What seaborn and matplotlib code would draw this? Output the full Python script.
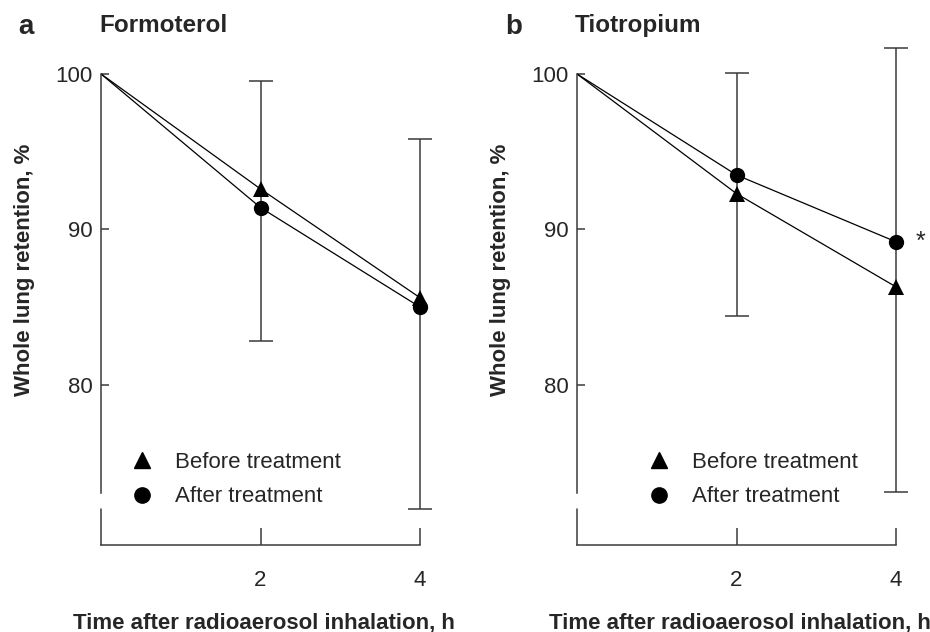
import pandas as pd
import matplotlib.pyplot as plt
import seaborn as sns
from matplotlib.lines import Line2D

# --- data ---
time_h = [0, 2, 4]
form_before = [100, 92.6, 85.6]
form_after = [100, 91.4, 85.0]
form_err_x = [2, 4]
form_err_low = [82.8, 72.0]
form_err_high = [99.55, 95.8]

tio_before = [100, 92.3, 86.3]
tio_after = [100, 93.5, 89.2]
tio_err_x = [2, 4]
tio_err_low = [84.4, 73.1]
tio_err_high = [100.06, 101.7]

x_ticks = [2, 4]
y_ticks = [80, 90, 100]
series_names = ['Before treatment', 'After treatment']

sns.set_style('ticks')
plt.rcParams['font.family'] = ['Liberation Sans', 'DejaVu Sans']

fig = plt.figure(figsize=(9.3, 6.32), dpi=100)
ax_a = fig.add_axes([0.1086, 0.1377, 0.386, 0.7945])
ax_b = fig.add_axes([0.6204, 0.1377, 0.386, 0.7945])

ylo, yhi = 69.7, 102.0
brk_lo, brk_hi = 72.0, 73.05
spine_col = '#3a3a3a'


def draw_panel(ax, before, after, err_x, err_low, err_high, letter, title, letter_x):
    df = pd.DataFrame({
        'time': time_h * 2,
        'retention': before + after,
        'group': [series_names[0]] * 3 + [series_names[1]] * 3,
    })
    sns.lineplot(data=df, x='time', y='retention', style='group',
                 markers={series_names[0]: '^', series_names[1]: 'o'},
                 dashes=False, color='black', linewidth=0.9,
                 markersize=11, markeredgewidth=0, legend=False, ax=ax)
    # first point (100 %) has no marker in the original
    for ln in ax.lines:
        ln.set_markevery([1, 2])

    mid = [(lo + hi) / 2 for lo, hi in zip(err_low, err_high)]
    half = [(hi - lo) / 2 for lo, hi in zip(err_low, err_high)]
    ax.errorbar(err_x, mid, yerr=half, fmt='none', ecolor=spine_col,
                elinewidth=1.1, capsize=8.5, capthick=1.1, zorder=1)

    ax.set_xlim(0, 4.5)
    ax.set_ylim(ylo, yhi)
    ax.set_xticks(x_ticks)
    ax.set_yticks(y_ticks)
    ax.tick_params(axis='x', direction='in', length=12, width=1.1, pad=18,
                   labelsize=16, color=spine_col)
    ax.tick_params(axis='y', direction='in', length=6, width=1.1, pad=6,
                   labelsize=16, color=spine_col)
    for s in ['top', 'right']:
        ax.spines[s].set_visible(False)
    ax.spines['bottom'].set_bounds(0, 4)
    ax.spines['left'].set_bounds(brk_hi, 100)
    for s in ['left', 'bottom']:
        ax.spines[s].set_color(spine_col)
        ax.spines[s].set_linewidth(1.1)
    # lower piece of the broken y axis
    ax.axvline(0, ymin=0, ymax=(brk_lo - ylo) / (yhi - ylo), color=spine_col,
               lw=1.1, clip_on=False)

    ax.set_xlabel('Time after radioaerosol inhalation, h', fontsize=16,
                  fontweight='bold')
    ax.xaxis.set_label_coords(0.455, -0.135)
    ax.set_ylabel('Whole lung retention, %', fontsize=16, fontweight='bold')
    ax.yaxis.set_label_coords(-0.183, 0.548)

    ax.text(letter_x, 1.032, letter, transform=ax.transAxes, fontsize=20,
            fontweight='bold', va='center', ha='left')
    ax.text(-0.005, 1.034, title, transform=ax.transAxes, fontsize=17.5,
            fontweight='bold', va='center', ha='left')

    handles = [Line2D([], [], marker='^', color='black', linestyle='none', markersize=11),
               Line2D([], [], marker='o', color='black', linestyle='none', markersize=11)]
    ax.legend(handles, series_names, loc='center left', bbox_to_anchor=(0.027, 0.13),
              frameon=False, fontsize=16, handlelength=1.0, handletextpad=1.0,
              labelspacing=0.6)


draw_panel(ax_a, form_before, form_after, form_err_x, form_err_low, form_err_high,
           'a', 'Formoterol', -0.23)
draw_panel(ax_b, tio_before, tio_after, tio_err_x, tio_err_low, tio_err_high,
           'b', 'Tiotropium', -0.2)
ax_b.legend_.set_bbox_to_anchor((0.142, 0.13), transform=ax_b.transAxes)
ax_b.text(4.3, tio_after[2], '*', fontsize=18, ha='center', va='center')

fig.savefig('out.png', dpi=100)
